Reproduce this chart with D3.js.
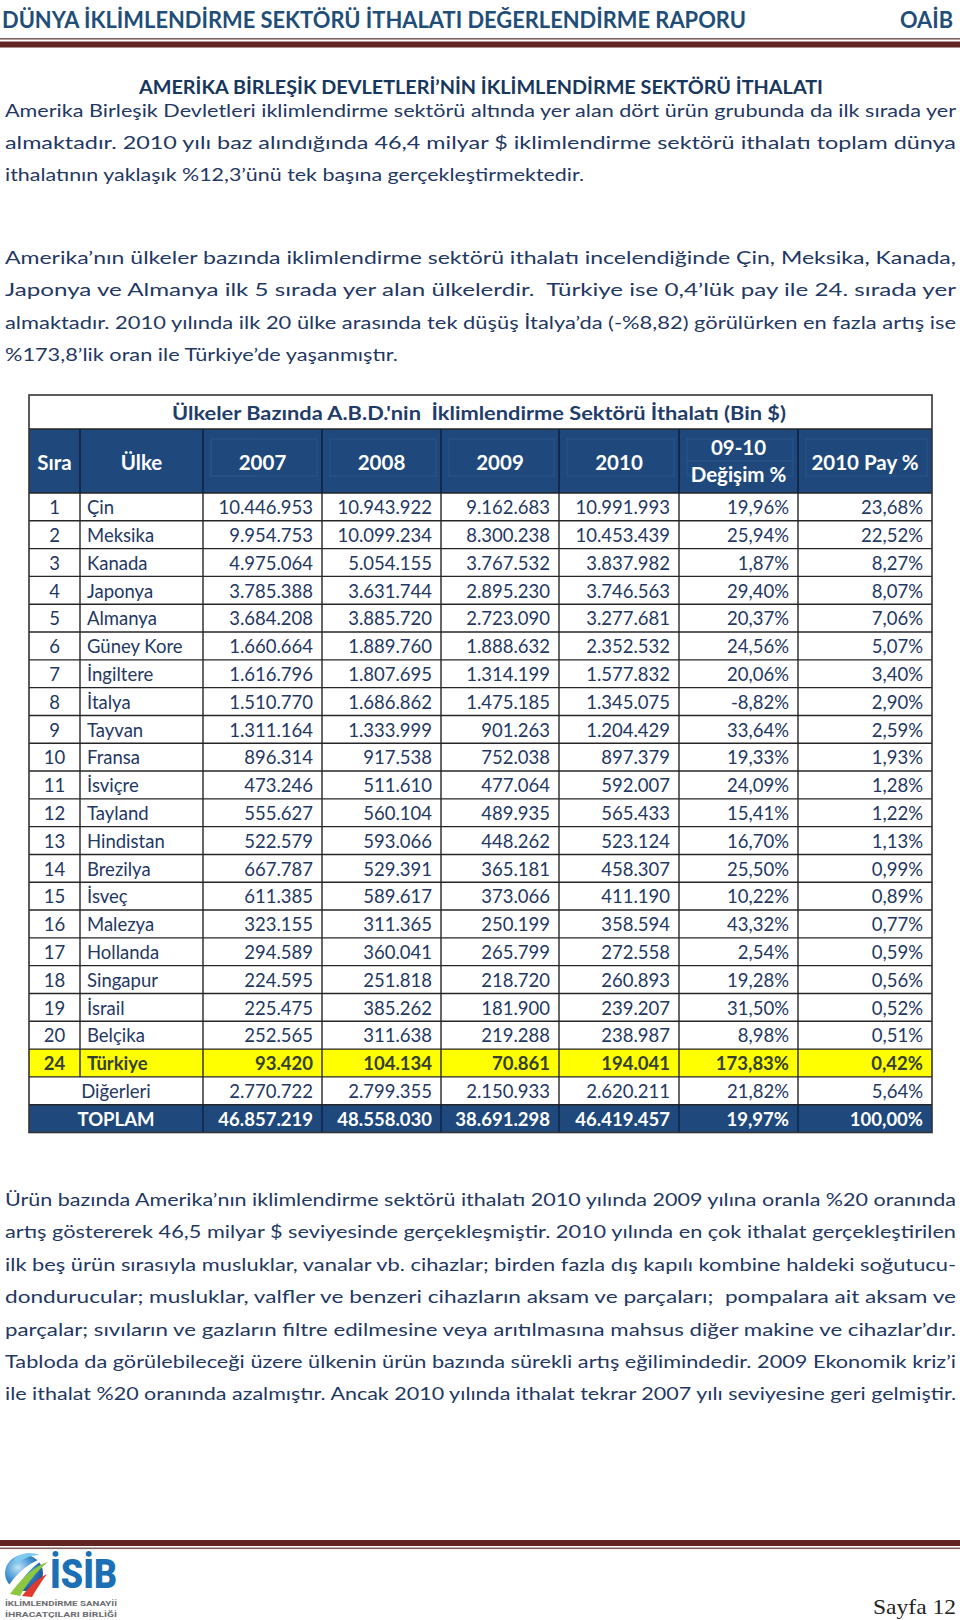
<!DOCTYPE html>
<html><head><meta charset="utf-8">
<script src="https://cdn.jsdelivr.net/npm/d3@7"></script>
<style>body{margin:0;background:#fff} svg{display:block}</style>
</head><body><svg id="page" width="960" height="1620"></svg>
<script>
// ---------------- DATA ----------------
const headerTitle = "DÜNYA İKLİMLENDİRME SEKTÖRÜ İTHALATI DEĞERLENDİRME RAPORU";
const headerRight = "OAİB";
const sectionTitle = "AMERİKA BİRLEŞİK DEVLETLERİ’NİN İKLİMLENDİRME SEKTÖRÜ İTHALATI";
const para1 = [
  "Amerika Birleşik Devletleri iklimlendirme sektörü altında yer alan dört ürün grubunda da ilk sırada yer",
  "almaktadır. 2010 yılı baz alındığında 46,4 milyar $ iklimlendirme sektörü ithalatı toplam dünya",
  "ithalatının yaklaşık %12,3’ünü tek başına gerçekleştirmektedir."
];
const para2 = [
  "Amerika’nın ülkeler bazında iklimlendirme sektörü ithalatı incelendiğinde Çin, Meksika, Kanada,",
  "Japonya ve Almanya ilk 5 sırada yer alan ülkelerdir.  Türkiye ise 0,4’lük pay ile 24. sırada yer",
  "almaktadır. 2010 yılında ilk 20 ülke arasında tek düşüş İtalya’da (-%8,82) görülürken en fazla artış ise",
  "%173,8’lik oran ile Türkiye’de yaşanmıştır."
];
const para3 = [
  "Ürün bazında Amerika’nın iklimlendirme sektörü ithalatı 2010 yılında 2009 yılına oranla %20 oranında",
  "artış göstererek 46,5 milyar $ seviyesinde gerçekleşmiştir. 2010 yılında en çok ithalat gerçekleştirilen",
  "ilk beş ürün sırasıyla musluklar, vanalar vb. cihazlar; birden fazla dış kapılı kombine haldeki soğutucu-",
  "dondurucular; musluklar, valfler ve benzeri cihazların aksam ve parçaları;  pompalara ait aksam ve",
  "parçalar; sıvıların ve gazların filtre edilmesine veya arıtılmasına mahsus diğer makine ve cihazlar’dır.",
  "Tabloda da görülebileceği üzere ülkenin ürün bazında sürekli artış eğilimindedir. 2009 Ekonomik kriz’i",
  "ile ithalat %20 oranında azalmıştır. Ancak 2010 yılında ithalat tekrar 2007 yılı seviyesine geri gelmiştir."
];
const tableTitle = "Ülkeler Bazında A.B.D.'nin  İklimlendirme Sektörü İthalatı (Bin $)";
const columnLabels = [["Sıra"], ["Ülke"], ["2007"], ["2008"], ["2009"], ["2010"], ["09-10", "Değişim %"], ["2010 Pay %"]];

const ranks = [1,2,3,4,5,6,7,8,9,10,11,12,13,14,15,16,17,18,19,20,24];
const countries = ["Çin","Meksika","Kanada","Japonya","Almanya","Güney Kore","İngiltere","İtalya","Tayvan","Fransa",
  "İsviçre","Tayland","Hindistan","Brezilya","İsveç","Malezya","Hollanda","Singapur","İsrail","Belçika","Türkiye"];
const imp2007 = [10446953,9954753,4975064,3785388,3684208,1660664,1616796,1510770,1311164,896314,
  473246,555627,522579,667787,611385,323155,294589,224595,225475,252565,93420];
const imp2008 = [10943922,10099234,5054155,3631744,3885720,1889760,1807695,1686862,1333999,917538,
  511610,560104,593066,529391,589617,311365,360041,251818,385262,311638,104134];
const imp2009 = [9162683,8300238,3767532,2895230,2723090,1888632,1314199,1475185,901263,752038,
  477064,489935,448262,365181,373066,250199,265799,218720,181900,219288,70861];
const imp2010 = [10991993,10453439,3837982,3746563,3277681,2352532,1577832,1345075,1204429,897379,
  592007,565433,523124,458307,411190,358594,272558,260893,239207,238987,194041];
const change0910 = [19.96,25.94,1.87,29.40,20.37,24.56,20.06,-8.82,33.64,19.33,
  24.09,15.41,16.70,25.50,10.22,43.32,2.54,19.28,31.50,8.98,173.83];
const share2010 = [23.68,22.52,8.27,8.07,7.06,5.07,3.40,2.90,2.59,1.93,
  1.28,1.22,1.13,0.99,0.89,0.77,0.59,0.56,0.52,0.51,0.42];
const othersLabel = "Diğerleri";
const othersValues = [2770722, 2799355, 2150933, 2620211];
const othersChange = 21.82, othersShare = 5.64;
const totalLabel = "TOPLAM";
const totalValues = [46857219, 48558030, 38691298, 46419457];
const totalChange = 19.97, totalShare = 100.00;
const highlightCountry = "Türkiye";
const pageLabel = "Sayfa 12";
const logoWord = "İSİB";
const logoLines = ["İKLİMLENDİRME SANAYİİ", "İHRACATÇILARI BİRLİĞİ"];

// ---------------- LAYOUT / STYLE ----------------
const svg = d3.select("#page");
const BODY = "Lato, 'Open Sans', sans-serif";
const NAVY = "#1F3864";
const HEAD_BG = "#1F497D";

const loc = d3.formatLocale({decimal: ",", thousands: ".", grouping: [3], currency: ["", "$"], minus: "-"});
const fmtInt = loc.format(",d");
const fmtPct = v => loc.format(",.2f")(v) + "%";

// Header
svg.append("text").attr("x", 2).attr("y", 28).text(headerTitle)
  .attr("font-family", BODY).attr("font-weight", 700).attr("font-size", 23)
  .attr("fill", "#1F4E79").attr("textLength", 744).attr("lengthAdjust", "spacingAndGlyphs");
svg.append("text").attr("x", 953).attr("y", 28).attr("text-anchor", "end").text(headerRight)
  .attr("font-family", BODY).attr("font-weight", 700).attr("font-size", 23)
  .attr("fill", "#1F4E79").attr("textLength", 53).attr("lengthAdjust", "spacingAndGlyphs");
svg.append("rect").attr("x", 0).attr("y", 38).attr("width", 960).attr("height", 1.6).attr("fill", "#7E6262");
svg.append("rect").attr("x", 0).attr("y", 41.5).attr("width", 960).attr("height", 6).attr("fill", "#632523");

// Section title
svg.append("text").attr("x", 139).attr("y", 93.5).text(sectionTitle)
  .attr("font-family", BODY).attr("font-weight", 700).attr("font-size", 18.5)
  .attr("fill", "#17375E").attr("textLength", 684).attr("lengthAdjust", "spacingAndGlyphs");

// Paragraph helper: justified lines, last line fitted to its measured width
function drawPara(lines, firstBaseline, step, lastWidth) {
  const left = 5, full = 951;
  lines.forEach((ln, i) => {
    const t = svg.append("text").attr("x", left).attr("y", firstBaseline + i * step)
      .attr("font-family", BODY).attr("font-size", 17.5).attr("fill", NAVY)
      .style("white-space", "pre").text(ln);
    const w = t.node().getComputedTextLength();
    const isLast = i === lines.length - 1;
    const target = isLast ? lastWidth : full;
    if (target == null) return;
    const spaces = (ln.match(/ /g) || []).length;
    const ws = (target - w) / Math.max(spaces, 1);
    if (ws >= 0 && ws < 12) t.attr("word-spacing", ws);
    else t.attr("textLength", target).attr("lengthAdjust", "spacingAndGlyphs");
  });
}
drawPara(para1, 117, 32.2, 579);
drawPara(para2, 264, 32.3, 393);
drawPara(para3, 1206, 32.4, 951);

// ---------------- TABLE ----------------
const colEdges = [29, 80, 203, 322, 441, 559, 679, 798, 932];
const tTop = 395, titleBottom = 429, headBottom = 493, tBottom = 1132.5;

const rows = ranks.map((r, i) => ({
  rank: r, name: countries[i],
  vals: [imp2007[i], imp2008[i], imp2009[i], imp2010[i]],
  chg: change0910[i], share: share2010[i],
  type: countries[i] === highlightCountry ? "hl" : "n"
}));
rows.push({rank: null, name: othersLabel, vals: othersValues, chg: othersChange, share: othersShare, type: "other"});
rows.push({rank: null, name: totalLabel, vals: totalValues, chg: totalChange, share: totalShare, type: "total"});

const y = d3.scaleBand().domain(d3.range(rows.length)).range([headBottom, tBottom]).paddingInner(0).paddingOuter(0);
const rh = y.bandwidth();

// title row
svg.append("rect").attr("x", colEdges[0]).attr("y", tTop).attr("width", colEdges[8] - colEdges[0])
  .attr("height", titleBottom - tTop).attr("fill", "#fff");
svg.append("text").attr("x", 172).attr("y", 420).text(tableTitle)
  .attr("font-family", BODY).attr("font-weight", 700).attr("font-size", 19.5)
  .attr("fill", "#1F3C6B").style("white-space", "pre")
  .attr("textLength", 614).attr("lengthAdjust", "spacingAndGlyphs");

// header row
svg.append("rect").attr("x", colEdges[0]).attr("y", titleBottom).attr("width", colEdges[8] - colEdges[0])
  .attr("height", headBottom - titleBottom).attr("fill", HEAD_BG);
const faint = svg.append("g").attr("stroke", "#3F6596").attr("stroke-width", 1).attr("fill", "none").attr("opacity", 0.45);
for (let c = 2; c < 8; c++) {
  faint.append("rect").attr("x", colEdges[c] + 8).attr("y", 439).attr("width", colEdges[c + 1] - colEdges[c] - 13).attr("height", 37);
}
faint.append("line").attr("x1", colEdges[6] + 8).attr("x2", colEdges[7] - 5).attr("y1", 461).attr("y2", 461);

columnLabels.forEach((lab, c) => {
  const cx = (colEdges[c] + colEdges[c + 1]) / 2;
  const baselines = lab.length === 1 ? [469.5] : [455, 482];
  lab.forEach((s, k) => {
    svg.append("text").attr("x", cx).attr("y", baselines[k]).attr("text-anchor", "middle").text(s)
      .attr("font-family", BODY).attr("font-weight", 700).attr("font-size", 20.5).attr("fill", "#fff");
  });
});

// row backgrounds
svg.append("g").selectAll("rect").data(rows).join("rect")
  .attr("x", colEdges[0]).attr("y", (d, i) => y(i)).attr("width", colEdges[8] - colEdges[0]).attr("height", rh)
  .attr("fill", d => d.type === "hl" ? "#FFFF00" : d.type === "total" ? HEAD_BG : "#fff");

// grid lines
const grid = svg.append("g").attr("stroke", "#262626").attr("stroke-width", 1.4);
d3.range(rows.length).forEach(i => {
  grid.append("line").attr("x1", colEdges[0]).attr("x2", colEdges[8]).attr("y1", y(i)).attr("y2", y(i));
});
grid.append("line").attr("x1", colEdges[0]).attr("x2", colEdges[8]).attr("y1", titleBottom).attr("y2", titleBottom);
colEdges.slice(1, 8).forEach(x => {
  svg.append("line").attr("x1", x).attr("x2", x).attr("y1", titleBottom).attr("y2", headBottom)
    .attr("stroke", "#0E2240").attr("stroke-width", 1.6);
});
rows.forEach((d, i) => {
  colEdges.slice(1, 8).forEach((x, k) => {
    if (k === 0 && (d.type === "other" || d.type === "total")) return;
    grid.append("line").attr("x1", x).attr("x2", x).attr("y1", y(i)).attr("y2", y(i) + rh)
      .attr("stroke", d.type === "total" ? "#0E2240" : "#262626");
  });
});
svg.append("rect").attr("x", colEdges[0]).attr("y", tTop).attr("width", colEdges[8] - colEdges[0])
  .attr("height", tBottom - tTop).attr("fill", "none").attr("stroke", "#333").attr("stroke-width", 1.6);

// cell text
const cellG = svg.append("g").attr("font-family", BODY).attr("font-size", 18.5);
rows.forEach((d, i) => {
  const base = y(i) + 21.2;
  const bold = d.type === "hl" || d.type === "total";
  const color = d.type === "hl" ? "#34402C" : d.type === "total" ? "#fff" : NAVY;
  const add = (x, anchor, s) => cellG.append("text").attr("x", x).attr("y", base).attr("text-anchor", anchor)
    .attr("font-weight", bold ? 700 : 400).attr("fill", color).text(s);
  if (d.type === "other" || d.type === "total") {
    add((colEdges[0] + colEdges[2]) / 2, "middle", d.name);
  } else {
    add((colEdges[0] + colEdges[1]) / 2, "middle", d.rank);
    add(colEdges[1] + 7, "start", d.name);
  }
  d.vals.forEach((v, k) => add(colEdges[k + 3] - 9, "end", fmtInt(v)));
  add(colEdges[7] - 9, "end", fmtPct(d.chg));
  add(colEdges[8] - 9, "end", fmtPct(d.share));
});

// ---------------- FOOTER ----------------
svg.append("rect").attr("x", 0).attr("y", 1540).attr("width", 960).attr("height", 6).attr("fill", "#632523");
svg.append("rect").attr("x", 0).attr("y", 1547.5).attr("width", 960).attr("height", 1.6).attr("fill", "#7E6262");

const defs = svg.append("defs");
const rg = defs.append("radialGradient").attr("id", "globe").attr("cx", "35%").attr("cy", "35%").attr("r", "70%");
rg.append("stop").attr("offset", "0%").attr("stop-color", "#bfe3f7");
rg.append("stop").attr("offset", "55%").attr("stop-color", "#3d8fd0");
rg.append("stop").attr("offset", "100%").attr("stop-color", "#174f93");
const logo = svg.append("g");
logo.append("ellipse").attr("cx", 24).attr("cy", 1573).attr("rx", 19).attr("ry", 18).attr("fill", "url(#globe)");
logo.append("path").attr("d", "M6,1590 C16,1572 32,1560 50,1556 C34,1564 22,1576 14,1594 Z").attr("fill", "#ffffff");
logo.append("path").attr("d", "M10,1594 C22,1578 34,1566 48,1562 C38,1570 28,1582 20,1596 Z").attr("fill", "#8DC63F");
logo.append("path").attr("d", "M22,1596 C30,1586 38,1578 47,1574 C41,1582 36,1590 32,1597 Z").attr("fill", "#E03A2F");
logo.append("path").attr("d", "M14,1559 C20,1553 30,1551 40,1555 C30,1555 22,1559 16,1565 Z").attr("fill", "#7ECBEF");
logo.append("text").attr("transform", "translate(50,1588) scale(1,1.15)").text(logoWord)
  .attr("font-family", "Roboto, sans-serif").attr("font-weight", 900).attr("font-size", 36)
  .attr("fill", "#1A6FB5").attr("textLength", 67).attr("lengthAdjust", "spacingAndGlyphs");
logoLines.forEach((s, k) => {
  logo.append("text").attr("x", 5).attr("y", 1606 + k * 11).text(s)
    .attr("font-family", "Roboto, sans-serif").attr("font-weight", 700).attr("font-size", 8)
    .attr("fill", "#6D6E71").attr("textLength", 112).attr("lengthAdjust", "spacingAndGlyphs");
});
svg.append("text").attr("x", 956).attr("y", 1614).attr("text-anchor", "end").text(pageLabel)
  .attr("font-family", "'Liberation Serif', 'DejaVu Serif', serif").attr("font-size", 22).attr("fill", "#222")
  .attr("textLength", 83).attr("lengthAdjust", "spacingAndGlyphs");
</script></body></html>
